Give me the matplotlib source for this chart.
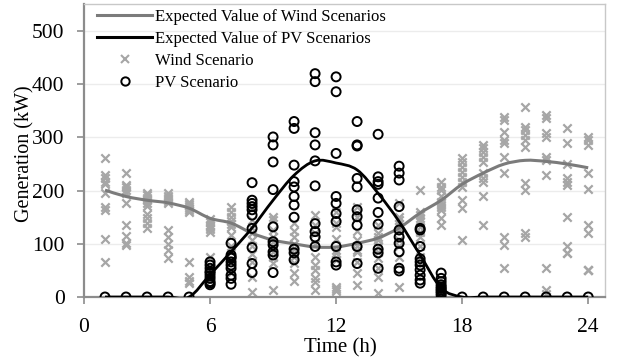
import numpy as np
import matplotlib
matplotlib.use('Agg')
import matplotlib.pyplot as plt
from matplotlib.path import Path
from matplotlib.patches import PathPatch
from matplotlib.lines import Line2D

plt.rcParams['font.family'] = ['Liberation Serif', 'DejaVu Serif']

hours = np.arange(1, 25)

# expected values (kW)
wind_expected = [201, 189, 182, 177, 167, 148, 139, 120, 107, 100, 94, 94,
                 101, 111, 130, 158, 182, 212, 233, 250, 257, 255, 250, 243]
pv_expected = [0, 0, 0, 0, 0, 42, 85, 130, 182, 229, 256, 252,
               239, 195, 142, 79, 17, 0, 0, 0, 0, 0, 0, 0]

# wind scenarios, one list per hour
wind_scen = [
    [261, 229, 223, 216, 212, 195, 169, 164, 109, 66],
    [234, 211, 206, 202, 196, 176, 135, 115, 101, 98],
    [195, 191, 187, 182, 176, 171, 157, 148, 139, 129],
    [196, 190, 186, 181, 176, 126, 113, 100, 88, 73],
    [179, 175, 171, 167, 163, 160, 66, 38, 30, 26],
    [147, 141, 136, 131, 127, 123, 76, 55, 40, 30],
    [170, 160, 151, 142, 138, 132, 117, 95, 70, 45],
    [165, 145, 130, 120, 108, 95, 80, 66, 38, 10],
    [151, 145, 126, 113, 104, 95, 85, 76, 63, 13],
    [139, 125, 113, 100, 90, 83, 76, 63, 45, 30],
    [154, 135, 120, 100, 75, 60, 51, 36, 28, 13],
    [160, 139, 132, 110, 88, 82, 70, 19, 15, 11],
    [170, 151, 125, 107, 95, 88, 85, 66, 45, 23],
    [135, 120, 113, 107, 95, 85, 73, 55, 38, 7],
    [176, 151, 145, 138, 132, 126, 107, 95, 76, 19],
    [201, 160, 154, 148, 142, 132, 123, 113, 95, 76],
    [217, 207, 201, 189, 179, 173, 170, 164, 148, 135],
    [261, 254, 245, 236, 226, 217, 207, 182, 167, 107],
    [286, 280, 273, 264, 254, 233, 223, 217, 189, 135],
    [339, 333, 311, 295, 289, 264, 233, 113, 98, 54],
    [358, 320, 314, 305, 295, 283, 214, 201, 120, 113],
    [342, 336, 308, 301, 264, 258, 229, 54, 13, 5],
    [317, 289, 251, 223, 217, 211, 150, 95, 82, 82],
    [301, 295, 286, 233, 204, 135, 120, 51, 51, 51],
]

# PV scenarios, one list per hour
pv_scen = [
    [0], [0], [0], [0], [0],
    [66, 60, 54, 48, 45, 40, 35, 29, 26, 23],
    [101, 79, 75, 73, 66, 60, 54, 41, 35, 24],
    [215, 182, 176, 170, 164, 154, 129, 93, 63, 46],
    [301, 286, 254, 202, 132, 104, 98, 85, 79, 46],
    [330, 317, 248, 217, 207, 189, 173, 150, 90, 83, 70],
    [420, 405, 309, 286, 256, 209, 138, 123, 113, 95],
    [414, 386, 270, 189, 176, 157, 142, 95, 66, 60],
    [330, 286, 284, 223, 207, 164, 151, 135, 95, 63],
    [306, 226, 217, 212, 186, 159, 137, 90, 83, 54],
    [246, 233, 220, 170, 126, 113, 101, 85, 54, 49],
    [129, 126, 95, 72, 66, 60, 51, 41, 32, 26],
    [45, 35, 29, 23, 19, 16, 13, 10, 7, 3],
    [0], [0], [0], [0], [0], [0], [0],
]

x_ticks = [0, 6, 12, 18, 24]
y_ticks = [0, 100, 200, 300, 400, 500]

WIND_C = '#a6a6a6'
WIND_LINE_C = '#7b7b7b'
AXIS_C = '#8c8c8c'


def smooth_path(x, y, t=1 / 6.0):
    # bezier curve through every point, like a spreadsheet "smoothed line"
    x = np.asarray(x, float)
    y = np.asarray(y, float)
    n = len(x)
    verts = [(x[0], y[0])]
    codes = [Path.MOVETO]
    for i in range(n - 1):
        p0 = (x[max(i - 1, 0)], y[max(i - 1, 0)])
        p1 = (x[i], y[i])
        p2 = (x[i + 1], y[i + 1])
        p3 = (x[min(i + 2, n - 1)], y[min(i + 2, n - 1)])
        c1 = (p1[0] + (p2[0] - p0[0]) * t, p1[1] + (p2[1] - p0[1]) * t)
        c2 = (p2[0] - (p3[0] - p1[0]) * t, p2[1] - (p3[1] - p1[1]) * t)
        verts += [c1, c2, p2]
        codes += [Path.CURVE4] * 3
    return Path(verts, codes)


fig = plt.figure(figsize=(6.19, 3.58), dpi=100)
ax = fig.add_axes([84 / 619, 61 / 358, 521 / 619, 293 / 358])

for h, vals in zip(hours, wind_scen):
    ax.scatter([h] * len(vals), vals, marker='x', s=36, color=WIND_C,
               linewidths=1.6, zorder=2)

ax.add_patch(PathPatch(smooth_path(hours, wind_expected), facecolor='none',
                       edgecolor=WIND_LINE_C, lw=2.2, zorder=3))

for h, vals in zip(hours, pv_scen):
    ax.scatter([h] * len(vals), vals, marker='o', s=42, facecolors='none',
               edgecolors='black', linewidths=1.4, zorder=4)

ax.add_patch(PathPatch(smooth_path(hours, pv_expected), facecolor='none',
                       edgecolor='black', lw=2.0, zorder=5))

ax.set_xlim(0, 24.8)
ax.set_ylim(0, 551)
ax.set_xticks(x_ticks)
ax.set_yticks(y_ticks)
ax.grid(axis='y', color='#ececec', lw=1.0)
ax.set_axisbelow(True)

for s in ['top', 'right']:
    ax.spines[s].set_color('#c8c8c8')
    ax.spines[s].set_linewidth(1.0)
for s in ['left', 'bottom']:
    ax.spines[s].set_color(AXIS_C)
    ax.spines[s].set_linewidth(1.6)

ax.tick_params(axis='both', direction='out', length=5, width=1.2,
               color=AXIS_C, labelsize=15.5)
ax.tick_params(axis='y', pad=9)
ax.tick_params(axis='x', pad=10)

fig.text(25 / 619, 1 - 154 / 358, 'Generation (kW)', rotation=90,
         ha='center', va='center', fontsize=14.5)
fig.text(340 / 619, 1 - 348 / 358, 'Time (h)', ha='center', va='center',
         fontsize=15)

handles = [
    Line2D([], [], color=WIND_LINE_C, lw=2.2),
    Line2D([], [], color='black', lw=2.2),
    Line2D([], [], ls='none', marker='x', ms=6, mew=1.5, color=WIND_C),
    Line2D([], [], ls='none', marker='o', ms=6, mew=1.4, mfc='none',
           mec='black'),
]
labels = ['Expected Value of Wind Scenarios', 'Expected Value of PV Scenarios',
          'Wind Scenario', 'PV Scenario']
fig.legend(handles, labels, loc='upper left',
           bbox_to_anchor=(97 / 619, 1 - 9 / 358), frameon=False,
           fontsize=12, handlelength=3.3, handletextpad=0.2,
           labelspacing=0.36, borderpad=0, borderaxespad=0)

fig.savefig('out.png', dpi=100)
